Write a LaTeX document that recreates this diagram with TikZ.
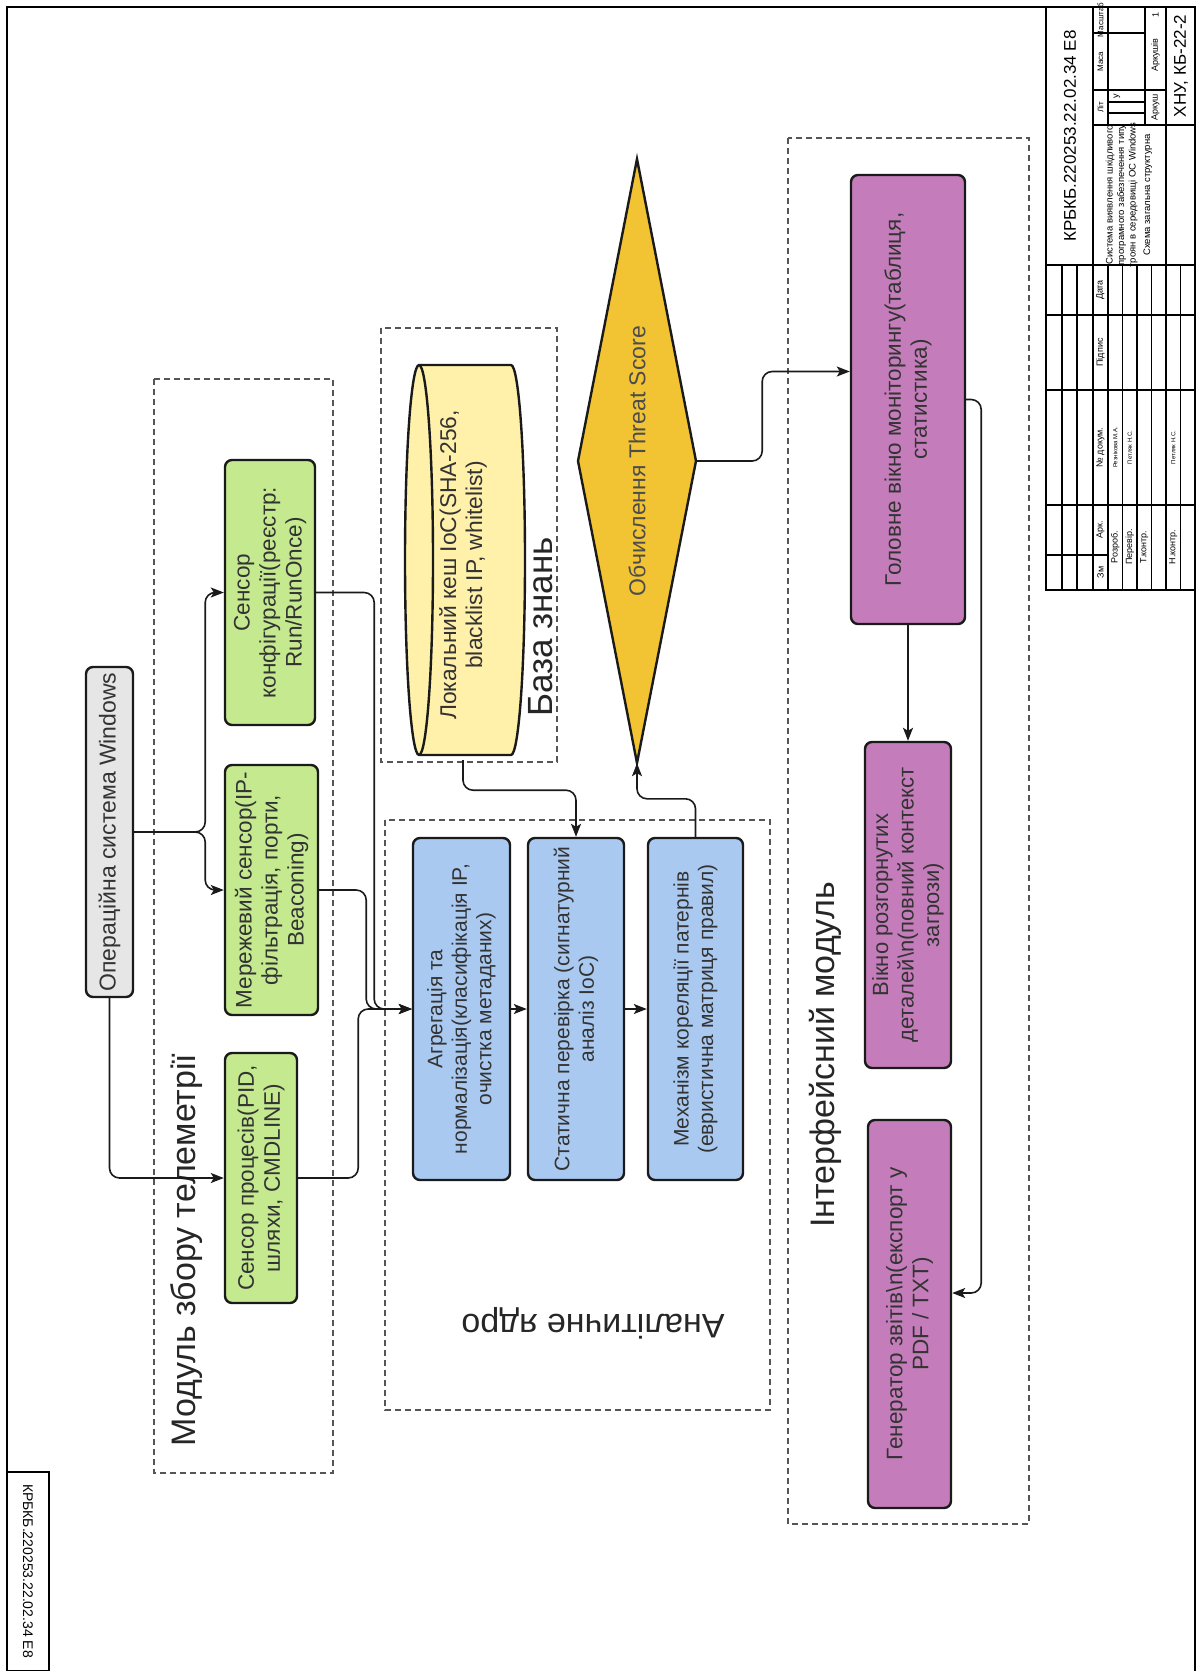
\documentclass[tikz,border=0pt]{standalone}
\usepackage{fontspec}
\setmainfont{Liberation Sans}
\usetikzlibrary{arrows.meta}
\definecolor{osgrey}{HTML}{E6E6E6}
\definecolor{sensgreen}{HTML}{C4E98F}
\definecolor{coreblue}{HTML}{A9C9F0}
\definecolor{dbyellow}{HTML}{FFF0AA}
\definecolor{scoregold}{HTML}{F2C433}
\definecolor{uipurple}{HTML}{C47DBA}
\definecolor{edge}{HTML}{1A1A1A}
\definecolor{txt}{HTML}{333333}
\definecolor{dashgrey}{HTML}{555555}
\begin{document}
\begin{tikzpicture}[x=1pt,y=-1pt,
  every node/.style={text=txt},
  box/.style={rounded corners=7pt, draw=edge, line width=2.4pt, rotate=90,
    align=center, inner sep=0pt, font=\fontsize{21}{24.5}\selectfont},
  bigtext/.style={font=\fontsize{22.5}{26}\selectfont},
  group/.style={draw=dashgrey, line width=1.6pt, dash pattern=on 6pt off 4pt},
  conn/.style={draw=edge, line width=1.6pt, rounded corners=10pt,
    -{Stealth[length=13pt,width=10pt,inset=3pt]}},
  modlabel/.style={rotate=90, inner sep=0pt, font=\fontsize{34}{38}\selectfont, text=black!85},
  tbline/.style={draw=black, line width=1.2pt},
  tbtext/.style={rotate=90, inner sep=0pt, text=black, font=\fontsize{9}{10}\selectfont},
]
\useasboundingbox (0,0) rectangle (1196,1671);

% sheet frame and side stamp
\draw[tbline] (7,1671) -- (7,7) -- (1195,7) -- (1195,1671);
\draw[tbline] (7,1472) rectangle (49,1671);
\node[rotate=-90, text=black, font=\fontsize{14}{16}\selectfont] (stamp) at (28,1571) {КРБКБ.220253.22.02.34 Е8};

% module frames
\draw[group] (154,379) rectangle (333,1473);
\draw[group] (381,328) rectangle (557,762);
\draw[group] (385,820) rectangle (770,1410);
\draw[group] (788,138) rectangle (1029,1524);

\node[modlabel] (tlab) at (187,1250) {Модуль збору телеметрії};
\node[modlabel, font=\fontsize{35}{38}\selectfont] (kblab) at (541,627) {База знань};
\node[rotate=180, inner sep=0pt, font=\fontsize{34}{38}\selectfont, text=black!85] (corelab) at (593,1323) {Аналітичне ядро};
\node[modlabel] (uilab) at (825,1055) {Інтерфейсний модуль};

% source and sensors
\node[box, fill=osgrey, font=\fontsize{23}{26}\selectfont, minimum width=330, minimum height=47] (win) at (109.5,832) {Операційна система Windows};
\node[box, bigtext, fill=sensgreen, minimum width=265, minimum height=90] (cfg) at (270,592.5) {Сенсор\\конфігурації(реєстр:\\Run/RunOnce)};
\node[box, bigtext, fill=sensgreen, minimum width=250, minimum height=93] (net) at (271.5,890) {Мережевий сенсор(IP-\\фільтрація, порти,\\Beaconing)};
\node[box, bigtext, fill=sensgreen, minimum width=250, minimum height=72] (proc) at (261,1178) {Сенсор процесів(PID,\\шляхи, CMDLINE)};

% analytical core
\node[box, fill=coreblue, minimum width=342, minimum height=97] (agg) at (461.5,1009) {Агрегація та\\нормалізація(класифікація IP,\\очистка метаданих)};
\node[box, fill=coreblue, minimum width=342, minimum height=96] (stat) at (576,1009) {Статична перевірка (сигнатурний\\аналіз IoC)};
\node[box, fill=coreblue, minimum width=342, minimum height=95] (mech) at (695.5,1009) {Механізм кореляції патернів\\(евристична матриця правил)};

% knowledge base cylinder
\draw[fill=dbyellow, draw=edge, line width=2.4pt]
  (419,365) -- (511,365) arc[start angle=-90, end angle=90, x radius=14, y radius=195]
  -- (419,755) arc[start angle=90, end angle=270, x radius=14, y radius=195] -- cycle;
\draw[draw=edge, line width=2.4pt] (419,365) arc[start angle=-90, end angle=90, x radius=14, y radius=195];
\node[rotate=90, minimum width=390, minimum height=120, inner sep=0pt, align=center,
  font=\fontsize{22.8}{26}\selectfont] (kb) at (463,565) {Локальний кеш IoC(SHA-256,\\blacklist IP, whitelist)};

% threat score
\draw[fill=scoregold, draw=edge, line width=2.4pt] (637,159) -- (696,461) -- (637,763) -- (578,461) -- cycle;
\node[rotate=90, minimum width=604, minimum height=118, inner sep=0pt,
  font=\fontsize{23}{26}\selectfont, text=black!70] (score) at (637,461) {Обчислення Threat Score};

% interface
\node[box, bigtext, fill=uipurple, minimum width=449, minimum height=114] (mainw) at (908,399.5) {Головне вікно моніторингу(таблиця,\\статистика)};
\node[box, fill=uipurple, font=\fontsize{22}{25.5}\selectfont, minimum width=326, minimum height=86] (detw) at (908,905) {Вікно розгорнутих\\деталей\textbackslash n(повний контекст\\загрози)};
\node[box, bigtext, fill=uipurple, minimum width=388, minimum height=83] (gen) at (909.5,1314) {Генератор звітів\textbackslash n(експорт у\\PDF / TXT)};

% connectors
\draw[conn] (win.south) -- ++(71,0) |- (cfg.north);
\draw[conn] (win.south) -- ++(71,0) |- (net.north);
\draw[conn] (win.west) |- (proc.north);
\draw[conn] (cfg.south) -- ++(58,0) |- (agg.north);
\draw[conn] (net.south) -- ++(47,0) |- (agg.north);
\draw[conn] (proc.south) -- ++(60,0) |- (agg.north);
\draw[conn] (agg.south) -- (stat.north);
\draw[conn] (stat.south) -- (mech.north);
\draw[conn] (kb.west) -- ++(0,30) -| (stat.east);
\draw[conn] (mech.east) -- ++(0,-38) -| (score.west);
\draw[conn] (score.south) -- ++(66,0) |- ([yshift=28pt]mainw.north);
\draw[conn] (mainw.west) -- (detw.east);
\draw[conn] (mainw.south) -- ++(15,0) |- ([yshift=21pt]gen.south);

% title block
\draw[tbline] (1046,7) rectangle (1195,590);
\draw[tbline] (1046,265) -- (1195,265);
\draw[tbline] (1093,7) -- (1093,590);
\draw[tbline] (1166,7) -- (1166,265);
\draw[tbline] (1093,125) -- (1195,125);
\draw[tbline] (1108,7) -- (1108,125);
\draw[tbline] (1145,7) -- (1145,125);
\draw[tbline] (1093,33) -- (1145,33);
\draw[tbline] (1093,90) -- (1166,90);
\draw[tbline] (1108,102) -- (1145,102);
\draw[tbline] (1108,113) -- (1145,113);
\foreach \r in {1062,1077,1108,1122.5,1137,1151.5,1166,1180.5}
  \draw[tbline] (\r,265) -- (\r,590);
\foreach \c in {315,390,505}
  \draw[tbline] (1046,\c) -- (1195,\c);
\draw[tbline] (1046,555) -- (1108,555);

\node[rotate=90, text=black, font=\fontsize{17}{20}\selectfont] (desig) at (1070,136) {КРБКБ.220253.22.02.34 Е8};
\node[rotate=90, text=black, align=center, font=\fontsize{9.5}{11.5}\selectfont] (docname) at (1129,195) {Система виявлення шкідливого\\програмного забезпечення типу\\троян в середовищі ОС Windows\\[3pt]Схема загальна структурна};
\node[rotate=90, text=black, font=\fontsize{17}{20}\selectfont] (org) at (1181,66) {ХНУ, КБ-22-2};
\node[tbtext, font=\fontsize{8}{9}\selectfont] at (1100.5,107.5) {Літ};
\node[tbtext, font=\fontsize{8}{9}\selectfont] at (1100.5,61.5) {Маса};
\node[tbtext, font=\fontsize{8}{9}\selectfont] at (1100.5,20) {Масштаб};
\node[tbtext] at (1117,96) {у};
\node[tbtext] at (1155.5,107.5) {Аркуш};
\node[tbtext] at (1155.5,55) {Аркушів};
\node[tbtext] at (1155.5,15) {1};
\node[tbtext] at (1100.5,572.5) {Зм};
\node[tbtext] at (1100.5,530) {Арк.};
\node[tbtext] at (1100.5,447.5) {№ докум.};
\node[tbtext] at (1100.5,352.5) {Підпис};
\node[tbtext] at (1100.5,290) {Дата};
\node[tbtext] at (1115.25,547) {Розроб.};
\node[tbtext, font=\fontsize{6}{7}\selectfont] at (1115.25,447.5) {Резнікова М.А.};
\node[tbtext] at (1129.75,547) {Перевір.};
\node[tbtext, font=\fontsize{6}{7}\selectfont] at (1129.75,447.5) {Петляк Н.С.};
\node[tbtext] at (1144.25,547) {Т.контр.};
\node[tbtext] at (1173.25,547) {Н.контр.};
\node[tbtext, font=\fontsize{6}{7}\selectfont] at (1173.25,447.5) {Петляк Н.С.};
\end{tikzpicture}
\end{document}
